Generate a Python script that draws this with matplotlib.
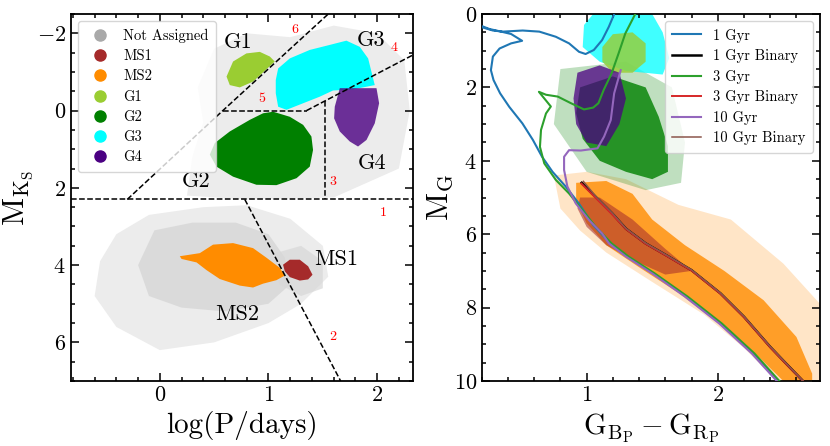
import matplotlib
matplotlib.use("Agg")
import matplotlib.pyplot as plt
from matplotlib.lines import Line2D
from matplotlib.ticker import MultipleLocator

plt.rcParams.update({
    "font.family": "serif",
    "font.serif": ["cmr10", "DejaVu Serif"],
    "mathtext.fontset": "cm",
    "axes.formatter.use_mathtext": True,
    "axes.linewidth": 1.3,
    "axes.unicode_minus": True,
})

# ---------------- Left panel data (log P, M_Ks) ----------------
gray_low_outer_x = [-0.55, -0.4, -0.1, 0.4, 0.8, 1.2, 1.5, 1.55, 1.3, 1.0, 0.5, 0.0, -0.4, -0.6]
gray_low_outer_y = [3.9, 3.2, 2.7, 2.5, 2.45, 2.8, 3.5, 4.3, 5.0, 5.5, 6.0, 6.2, 5.6, 4.8]
gray_low_inner_x = [-0.05, 0.3, 0.7, 1.0, 1.15, 1.2, 1.0, 0.6, 0.2, -0.1, -0.2]
gray_low_inner_y = [3.1, 2.9, 2.9, 3.2, 3.8, 4.5, 5.0, 5.2, 5.1, 4.8, 4.0]
gray_up_outer_x = [0.35, 0.5, 0.8, 1.2, 1.6, 2.0, 2.25, 2.3, 2.2, 1.6, 0.8, 0.25, 0.3, 0.4]
gray_up_outer_y = [-0.6, -1.6, -2.0, -1.9, -2.2, -2.0, -1.3, 0.0, 1.5, 2.25, 2.3, 2.2, 1.2, 0.3]
gray_ms1_x = [1.05, 1.3, 1.5, 1.5, 1.3, 1.1]
gray_ms1_y = [3.7, 3.5, 3.9, 4.6, 4.8, 4.5]

ms2_l_x = [0.184, 0.368, 0.49, 0.674, 0.858, 0.982, 1.104, 1.15, 1.073, 0.95, 0.858, 0.736, 0.552, 0.43, 0.338, 0.2]
ms2_l_y = [3.77, 3.69, 3.47, 3.43, 3.56, 3.81, 4.07, 4.27, 4.39, 4.48, 4.58, 4.53, 4.36, 4.13, 3.93, 3.84]
ms1_l_x = [1.134, 1.196, 1.288, 1.365, 1.405, 1.365, 1.288, 1.196, 1.15]
ms1_l_y = [3.99, 3.86, 3.86, 4.03, 4.25, 4.37, 4.40, 4.31, 4.16]
g1_l_x = [0.614, 0.674, 0.797, 0.92, 1.012, 1.058, 0.858, 0.736, 0.644]
g1_l_y = [-0.88, -1.27, -1.48, -1.52, -1.40, -1.27, -0.75, -0.60, -0.66]
g2_l_x = [1.043, 1.196, 1.319, 1.395, 1.41, 1.38, 1.258, 1.073, 0.889, 0.674, 0.521, 0.46, 0.506, 0.644, 0.828, 0.95]
g2_l_y = [0.03, 0.16, 0.37, 0.67, 1.02, 1.45, 1.75, 1.93, 1.92, 1.71, 1.45, 1.14, 0.84, 0.54, 0.24, 0.07]
g3_l_x = [1.089, 1.196, 1.38, 1.564, 1.717, 1.84, 1.917, 1.947, 1.978, 1.779, 1.594, 1.472, 1.319, 1.166, 1.089, 1.067, 1.067]
g3_l_y = [-1.09, -1.35, -1.57, -1.70, -1.81, -1.65, -1.35, -1.01, -0.66, -0.55, -0.52, -0.36, -0.19, -0.02, -0.10, -0.45, -0.79]
g4_l_x = [1.656, 1.994, 2.018, 1.978, 1.902, 1.824, 1.748, 1.656, 1.604, 1.61, 1.64]
g4_l_y = [-0.58, -0.58, -0.19, 0.33, 0.76, 0.93, 0.80, 0.54, 0.20, -0.10, -0.41]

# dividing lines
line1_x = [-0.82, 2.33]; line1_y = [2.3, 2.3]
line6_x = [-0.30, 0.58, 1.55]; line6_y = [2.3, 0.0, -2.5]
line5_x = [0.58, 1.35]; line5_y = [0.0, 0.0]
line4_x = [1.35, 2.33]; line4_y = [0.0, -1.44]
line3_x = [1.518, 1.518]; line3_y = [-0.25, 2.3]
line2_x = [0.782, 1.664]; line2_y = [2.3, 7.0]

region_labels = ["1", "2", "3", "4", "5", "6"]
region_x = [2.054, 1.594, 1.594, 2.155, 0.941, 1.242]
region_y = [2.65, 5.86, 1.86, -1.61, -0.29, -2.10]

group_labels = ["G1", "G2", "G3", "G4", "MS1", "MS2"]
group_x = [0.72, 0.337, 1.947, 1.957, 1.62, 0.711]
group_y = [-1.76, 1.83, -1.83, 1.36, 3.84, 5.28]

# ---------------- Right panel data (BP-RP, M_G) ----------------
iso1_x = [2.46, 2.27, 2.02, 1.76, 1.51, 1.31, 1.18, 1.05, 0.94, 0.84, 0.74, 0.66, 0.59, 0.51, 0.41, 0.34, 0.29,
          0.27, 0.285, 0.336, 0.424, 0.508, 0.424, 0.336, 0.26, 0.209, 0.17, 0.21, 0.285, 0.361, 0.512, 0.639,
          0.765, 0.866, 0.942, 0.992, 1.055, 1.118, 1.169, 1.207, 1.22]
iso1_m = [10.0, 9.25, 8.43, 7.70, 7.07, 6.61, 6.25, 5.75, 5.16, 4.70, 4.30, 3.89, 3.43, 2.98, 2.53, 2.16, 1.80,
          1.53, 1.16, 0.94, 0.80, 0.73, 0.545, 0.47, 0.41, 0.34, 0.31, 0.37, 0.45, 0.48, 0.45, 0.48,
          0.62, 0.80, 1.03, 1.09, 0.98, 0.71, 0.35, 0.03, -0.1]
iso3_x = [2.47, 2.28, 2.03, 1.77, 1.52, 1.32, 1.19, 1.07, 0.967, 0.866, 0.765, 0.677, 0.644, 0.652, 0.69, 0.727,
          0.636, 0.69, 0.78, 0.88, 0.98, 1.05, 1.09, 1.13, 1.19, 1.244, 1.295, 1.371, 1.39]
iso3_m = [10.0, 9.25, 8.43, 7.70, 7.07, 6.61, 6.25, 5.80, 5.34, 4.89, 4.52, 4.07, 3.62, 3.16, 2.71, 2.52,
          2.12, 2.20, 2.25, 2.43, 2.60, 2.55, 2.43, 2.07, 1.62, 1.07, 0.53, 0.0, -0.1]
iso10_x = [2.45, 2.26, 2.01, 1.75, 1.50, 1.30, 1.17, 1.118, 1.017, 0.917, 0.853, 0.828, 0.828, 0.866, 0.956,
           1.083, 1.133, 1.184, 1.21, 1.26]
iso10_m = [10.0, 9.25, 8.43, 7.70, 7.07, 6.61, 6.25, 5.98, 5.61, 5.16, 4.70, 4.25, 3.89, 3.71, 3.72,
           3.66, 3.34, 2.89, 2.16, 1.53]
bin1_x = [0.962, 1.068, 1.194, 1.30, 1.45, 1.62, 1.80, 2.02, 2.20, 2.40, 2.52, 2.65]
bin1_m = [4.60, 4.98, 5.43, 5.85, 6.25, 6.60, 6.98, 7.61, 8.25, 9.07, 9.52, 10.0]
bin3_x = [0.960, 1.066, 1.192, 1.30, 1.45, 1.62, 1.80, 2.02, 2.20, 2.40, 2.52, 2.65]
bin3_m = [4.62, 5.00, 5.45, 5.86, 6.26, 6.61, 6.99, 7.62, 8.26, 9.08, 9.53, 10.0]
bin10_x = [0.975, 1.07, 1.196, 1.30, 1.45, 1.62, 1.80, 2.02, 2.20, 2.40, 2.52, 2.65]
bin10_m = [4.56, 4.97, 5.42, 5.84, 6.24, 6.59, 6.97, 7.60, 8.24, 9.06, 9.51, 10.0]

ms2_r_out_x = [0.75, 1.0, 1.3, 1.7, 2.1, 2.5, 2.78, 2.78, 2.45, 2.2, 1.9, 1.5, 1.15, 0.95, 0.8]
ms2_r_out_m = [4.4, 4.3, 4.5, 5.2, 5.6, 6.8, 7.9, 10.0, 10.0, 9.1, 8.2, 7.3, 6.5, 5.9, 5.3]
ms2_r_x = [0.92, 1.15, 1.35, 1.5, 1.75, 2.05, 2.35, 2.6, 2.72, 2.72, 2.5, 2.3, 2.0, 1.7, 1.4, 1.15, 1.0, 0.92]
ms2_r_m = [4.6, 4.55, 4.9, 5.6, 6.3, 7.0, 7.8, 8.8, 9.8, 10.0, 10.0, 9.3, 8.4, 7.6, 6.9, 6.3, 5.7, 5.1]
ms1_r_x = [0.95, 1.1, 1.35, 1.6, 1.8, 1.6, 1.35, 1.15, 1.0, 0.93]
ms1_r_m = [5.0, 5.0, 5.6, 6.4, 7.0, 7.1, 6.7, 6.3, 5.8, 5.3]
g3_r_x = [0.98, 1.05, 1.5, 1.58, 1.63, 1.58, 1.3, 1.1, 0.97]
g3_r_m = [0.3, 0.0, 0.0, 0.5, 1.2, 1.65, 1.55, 1.3, 0.9]
g1_r_x = [1.12, 1.2, 1.35, 1.45, 1.45, 1.35, 1.2, 1.12]
g1_r_m = [0.9, 0.55, 0.5, 0.8, 1.3, 1.6, 1.6, 1.3]
g2_r_out_x = [0.8, 1.3, 1.65, 1.75, 1.72, 1.45, 1.0, 0.75]
g2_r_out_m = [1.5, 1.3, 2.0, 3.5, 4.6, 4.8, 4.3, 3.0]
g2_r_x = [0.95, 1.2, 1.45, 1.55, 1.62, 1.62, 1.5, 1.3, 1.1, 0.97, 0.92]
g2_r_m = [2.0, 1.7, 2.0, 2.8, 3.6, 4.3, 4.5, 4.3, 4.0, 3.4, 2.7]
g4_r_x = [0.93, 1.1, 1.25, 1.3, 1.25, 1.15, 1.0, 0.92, 0.9]
g4_r_m = [1.6, 1.4, 1.6, 2.3, 3.0, 3.6, 3.5, 3.0, 2.3]

col = {"Not Assigned": "darkgray", "MS1": "brown", "MS2": "darkorange", "G1": "yellowgreen",
       "G2": "green", "G3": "cyan", "G4": "indigo"}

fig = plt.figure(figsize=(8.3, 4.46), dpi=100)
axL = fig.add_axes([0.0852, 0.1457, 0.4124, 0.8229])
axR = fig.add_axes([0.5804, 0.1457, 0.4076, 0.8229])

# ---- Left panel ----
axL.fill(gray_up_outer_x, gray_up_outer_y, color="#e4e4e4", alpha=0.7, lw=0, zorder=1)
axL.fill(gray_low_outer_x, gray_low_outer_y, color="#e4e4e4", alpha=0.7, lw=0, zorder=1)
axL.fill(gray_low_inner_x, gray_low_inner_y, color="#cfcfcf", alpha=0.6, lw=0, zorder=1)
axL.fill(gray_ms1_x, gray_ms1_y, color="#d8d8d8", alpha=0.7, lw=0, zorder=1)
axL.fill(ms2_l_x, ms2_l_y, color=col["MS2"], lw=0, zorder=2)
axL.fill(ms1_l_x, ms1_l_y, color=col["MS1"], lw=0, zorder=2)
axL.fill(g1_l_x, g1_l_y, color=col["G1"], lw=0, zorder=2)
axL.fill(g2_l_x, g2_l_y, color=col["G2"], lw=0, zorder=2)
axL.fill(g3_l_x, g3_l_y, color=col["G3"], lw=0, zorder=2)
axL.fill(g4_l_x, g4_l_y, color=col["G4"], alpha=0.8, lw=0, zorder=2)

for lx, ly in [(line1_x, line1_y), (line6_x, line6_y), (line5_x, line5_y),
               (line4_x, line4_y), (line3_x, line3_y), (line2_x, line2_y)]:
    axL.plot(lx, ly, ls="--", color="black", lw=1.1, zorder=3)

for t, x, y in zip(region_labels, region_x, region_y):
    axL.text(x, y, t, color="red", fontsize=10, ha="center", va="center", zorder=4)
for t, x, y in zip(group_labels, group_x, group_y):
    axL.text(x, y, t, color="black", fontsize=16, ha="center", va="center", zorder=4)

axL.set_xlim(-0.82, 2.33)
axL.set_ylim(7.0, -2.5)
axL.set_xlabel("log(P/days)", fontsize=21)
axL.set_ylabel(r"$\mathrm{M_{K_S}}$", fontsize=22)
axL.yaxis.set_label_coords(-0.105, 0.5)
axL.xaxis.set_major_locator(MultipleLocator(1))
axL.xaxis.set_minor_locator(MultipleLocator(0.2))
axL.yaxis.set_major_locator(MultipleLocator(2))
axL.yaxis.set_minor_locator(MultipleLocator(0.5))

handles = [Line2D([], [], ls="none", marker="o", markersize=8, markerfacecolor=col[k],
                  markeredgecolor=col[k], label=k) for k in col]
axL.legend(handles=handles, loc="upper left", fontsize=10.5, handletextpad=0.6,
           handlelength=2.0, labelspacing=0.45, borderpad=0.5)

# ---- Right panel ----
axR.fill(ms2_r_out_x, ms2_r_out_m, color=col["MS2"], alpha=0.22, lw=0, zorder=1)
axR.fill(ms2_r_x, ms2_r_m, color=col["MS2"], alpha=0.8, lw=0, zorder=1)
axR.fill(ms1_r_x, ms1_r_m, color=col["MS1"], alpha=0.55, lw=0, zorder=1)
axR.fill(g2_r_out_x, g2_r_out_m, color=col["G2"], alpha=0.25, lw=0, zorder=1)
axR.fill(g3_r_x, g3_r_m, color=col["G3"], alpha=0.75, lw=0, zorder=1)
axR.fill(g2_r_x, g2_r_m, color=col["G2"], alpha=0.8, lw=0, zorder=1)
axR.fill(g1_r_x, g1_r_m, color=col["G1"], alpha=0.8, lw=0, zorder=1)
axR.fill(g4_r_x, g4_r_m, color=col["G4"], alpha=0.75, lw=0, zorder=1)

axR.plot(iso1_x, iso1_m, color="tab:blue", lw=1.5, label="1 Gyr", zorder=3)
axR.plot(bin1_x, bin1_m, color="black", lw=1.8, label="1 Gyr Binary", zorder=3)
axR.plot(iso3_x, iso3_m, color="tab:green", lw=1.5, label="3 Gyr", zorder=3)
axR.plot(bin3_x, bin3_m, color="tab:red", lw=1.4, label="3 Gyr Binary", zorder=3)
axR.plot(iso10_x, iso10_m, color="tab:purple", lw=1.5, label="10 Gyr", zorder=3)
axR.plot(bin10_x, bin10_m, color="tab:brown", lw=1.1, label="10 Gyr Binary", zorder=3)

axR.set_xlim(0.2, 2.78)
axR.set_ylim(10, 0)
axR.set_xlabel(r"$\mathrm{G_{B_P} - G_{R_P}}$", fontsize=21)
axR.set_ylabel(r"$\mathrm{M_G}$", fontsize=22)
axR.yaxis.set_label_coords(-0.08, 0.5)
axR.xaxis.set_major_locator(MultipleLocator(1))
axR.xaxis.set_minor_locator(MultipleLocator(0.2))
axR.yaxis.set_major_locator(MultipleLocator(2))
axR.yaxis.set_minor_locator(MultipleLocator(0.5))
axR.legend(loc="upper right", fontsize=10.5, labelspacing=0.45, handlelength=2.0, borderpad=0.5)

for ax in (axL, axR):
    ax.tick_params(which="both", direction="in", top=True, right=True, labelsize=16, width=1.1)
    ax.tick_params(which="major", length=5.5)
    ax.tick_params(which="minor", length=3)

fig.savefig("out.png", dpi=100)
